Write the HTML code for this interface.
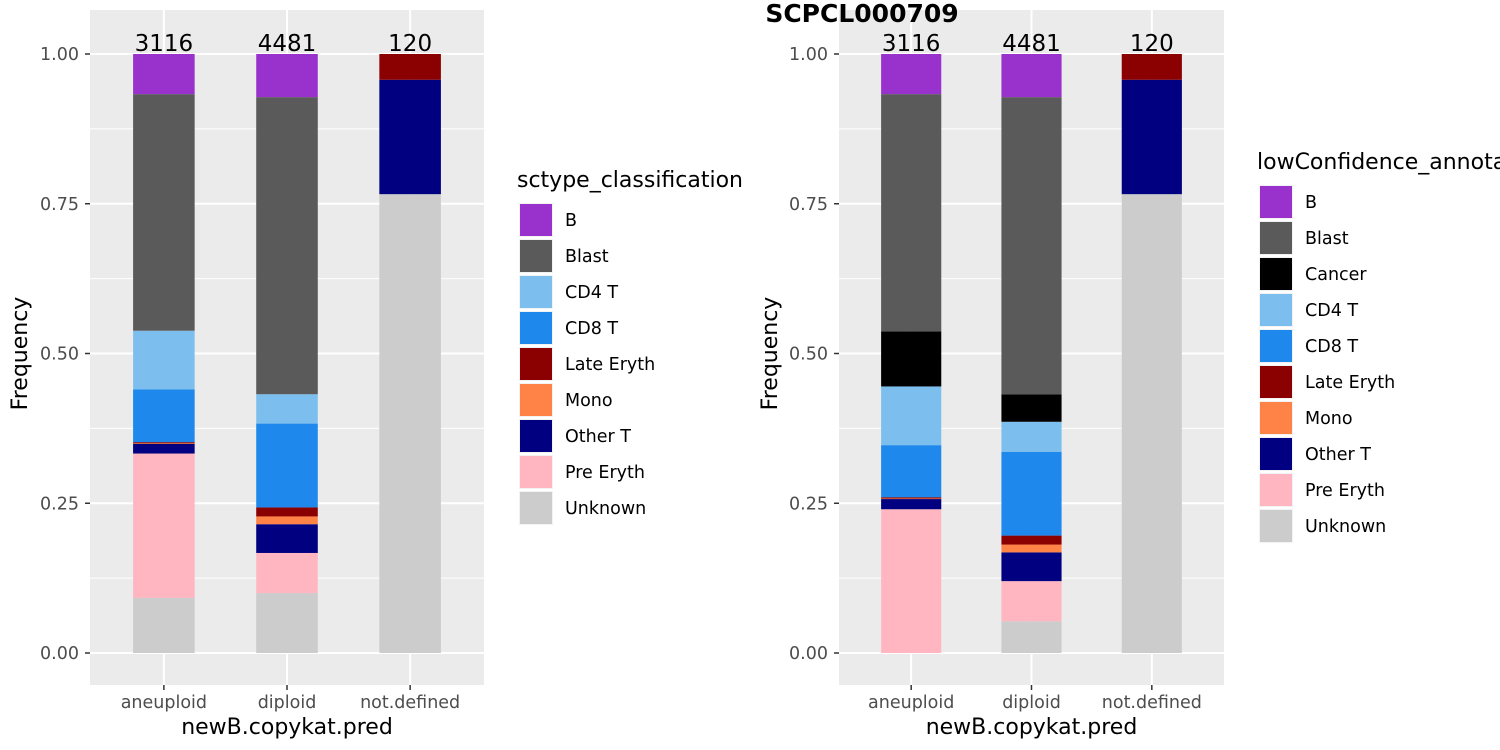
<!DOCTYPE html>
<html><head><meta charset="utf-8"><style>
html,body{margin:0;padding:0;background:#fff;width:1500px;height:750px;overflow:hidden}
text{font-family:"DejaVu Sans","Liberation Sans",sans-serif}
</style></head><body>
<svg id="svg" width="1500" height="750" xmlns="http://www.w3.org/2000/svg">
<defs>
<clipPath id="clipL"><rect x="0" y="0" width="752" height="750"/></clipPath>
</defs>
</svg>
<script>
const categories=["aneuploid","diploid","not.defined"];
const counts=["3116","4481","120"];
const yTicks=[0,0.25,0.5,0.75,1];
const yTickLabels=["0.00","0.25","0.50","0.75","1.00"];
const colors={"B":"#9932CC","Blast":"#5A5A5A","Cancer":"#000000","CD4 T":"#7CBFEE","CD8 T":"#1E88EC","Late Eryth":"#8B0000","Mono":"#FF8247","Other T":"#000080","Pre Eryth":"#FFB6C1","Unknown":"#CCCCCC"};
const stackL=["Unknown","Pre Eryth","Other T","Mono","Late Eryth","CD8 T","CD4 T","Blast","B"];
const stackR=["Unknown","Pre Eryth","Other T","Mono","Late Eryth","CD8 T","CD4 T","Cancer","Blast","B"];
const leftAneuploid=[0.092,0.241,0.016,0.001,0.002,0.088,0.098,0.395,0.067];
const leftDiploid=[0.100,0.067,0.048,0.013,0.015,0.140,0.049,0.496,0.072];
const leftNotDefined=[0.766,0,0.191,0,0.043,0,0,0,0];
const rightAneuploid=[0.000,0.240,0.017,0.001,0.002,0.087,0.098,0.092,0.396,0.067];
const rightDiploid=[0.053,0.067,0.048,0.013,0.015,0.140,0.050,0.046,0.496,0.072];
const rightNotDefined=[0.766,0,0.191,0,0.043,0,0,0,0,0];
const legendL=["B","Blast","CD4 T","CD8 T","Late Eryth","Mono","Other T","Pre Eryth","Unknown"];
const legendR=["B","Blast","Cancer","CD4 T","CD8 T","Late Eryth","Mono","Other T","Pre Eryth","Unknown"];

const svg=document.getElementById('svg');
const NS="http://www.w3.org/2000/svg";
function mk(tag,attrs,parent){const e=document.createElementNS(NS,tag);for(const k in attrs)e.setAttribute(k,attrs[k]);(parent||svg).appendChild(e);return e;}

function panel(p){
  const y0=653,y1=54;
  const yS=v=>y0-(y0-y1)*v;
  const step=(p.x1-p.x0)/3.2;
  const xS=i=>p.x0+step*(0.6+i);
  const g=mk('g',{});
  
  
  const bg=mk('rect',{x:p.x0,y:10,width:p.x1-p.x0,height:675,fill:'#EBEBEB'},g);
  
  
  for(let i=0;i<yTicks.length-1;i++){
    const m=(yTicks[i]+yTicks[i+1])/2;
    mk('line',{x1:p.x0,x2:p.x1,y1:yS(m),y2:yS(m),stroke:'#fff','stroke-width':1},g);
  }
  yTicks.forEach((t,i)=>{
    mk('line',{x1:p.x0,x2:p.x1,y1:yS(t),y2:yS(t),stroke:'#fff','stroke-width':2},g);
    mk('line',{x1:p.x0-5,x2:p.x0,y1:yS(t),y2:yS(t),stroke:'#333','stroke-width':1.5},g);
    const tx=mk('text',{x:p.x0-11,y:yS(t)+6,'text-anchor':'end','font-size':17.5,fill:'#4D4D4D'},g);
    tx.textContent=yTickLabels[i];
    
    
  });
  categories.forEach((c,i)=>{
    const cx=xS(i);
    mk('line',{x1:cx,x2:cx,y1:10,y2:685,stroke:'#fff','stroke-width':2},g);
    mk('line',{x1:cx,x2:cx,y1:685,y2:690,stroke:'#333','stroke-width':1.5},g);
    const tx=mk('text',{x:cx,y:708,'text-anchor':'middle','font-size':17.5,fill:'#4D4D4D'},g);
    tx.textContent=c;
    
    
  });
  const bw=step*0.5;
  p.data.forEach((vals,i)=>{
    const cx=xS(i);let cum=0;
    vals.forEach((v,j)=>{
      if(v<=0)return;
      const r=mk('rect',{x:cx-bw/2,y:yS(cum+v),width:bw,height:yS(cum)-yS(cum+v),fill:colors[p.stack[j]]},g);
      
      
      cum+=v;
    });
    const tx=mk('text',{x:cx,y:yS(1)-3,'text-anchor':'middle','font-size':23,fill:'#000'},g);
    tx.textContent=counts[i];
    
    
  });
  const xt=mk('text',{x:(p.x0+p.x1)/2,y:734,'text-anchor':'middle','font-size':22,fill:'#000'},g);
  xt.textContent='newB.copykat.pred';
  
  
  const yt=mk('text',{x:0,y:0,'text-anchor':'middle','font-size':22,fill:'#000',transform:`translate(${p.ytx},${yS(0.5)}) rotate(-90)`},g);
  yt.textContent='Frequency';
  
  
  const lg=mk('g',p.clip?{'clip-path':'url(#clipL)'}:{});
  
  
  const lt=mk('text',{x:p.lx-2,y:p.ly-16,'font-size':22,fill:'#000'},lg);
  lt.textContent=p.ltitle;
  
  
  p.legend.forEach((k,i)=>{
    const y=p.ly+i*36;
    mk('rect',{x:p.lx,y:y,width:34,height:34,fill:'#f2f2f2'},lg);
    const r=mk('rect',{x:p.lx+1,y:y+1,width:32,height:32,fill:colors[k]},lg);
    
    
    const tx=mk('text',{x:p.lx+46,y:y+23,'font-size':17.5,fill:'#000'},lg);
    tx.textContent=k;
    
    
  });
}
panel({name:'left',x0:90,x1:484,data:[leftAneuploid,leftDiploid,leftNotDefined],stack:stackL,ytx:27,lx:519,ly:203,ltitle:'sctype_classification',legend:legendL,clip:true});
panel({name:'right',x0:839,x1:1224,data:[rightAneuploid,rightDiploid,rightNotDefined],stack:stackR,ytx:777,lx:1259,ly:185,ltitle:'lowConfidence_annotation',legend:legendR,clip:false});
const title=mk('text',{x:862,y:22,'text-anchor':'middle','font-size':25,'font-weight':'bold',fill:'#000'});
title.textContent='SCPCL000709';


</script>
</body></html>
